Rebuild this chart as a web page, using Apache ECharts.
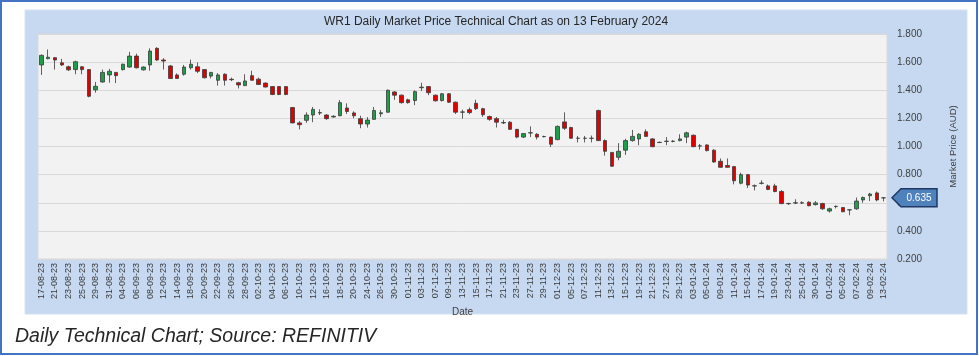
<!DOCTYPE html>
<html>
<head>
<meta charset="utf-8">
<script src="https://cdn.jsdelivr.net/npm/echarts@6/dist/echarts.min.js"></script>
<style>
html,body{margin:0;padding:0;background:#fff;}
#main{width:979px;height:356px;}
</style>
</head>
<body>
<div id="main"></div>
<script>
const dates = [
'17-08-23','18-08-23','21-08-23','22-08-23','23-08-23','24-08-23','25-08-23','28-08-23','29-08-23','30-08-23','31-08-23',
'01-09-23','04-09-23','05-09-23','06-09-23','07-09-23','08-09-23','11-09-23','12-09-23','13-09-23','14-09-23','15-09-23',
'18-09-23','19-09-23','20-09-23','21-09-23','22-09-23','25-09-23','26-09-23','27-09-23','28-09-23','29-09-23',
'02-10-23','03-10-23','04-10-23','05-10-23','06-10-23','09-10-23','10-10-23','11-10-23','12-10-23','13-10-23',
'16-10-23','17-10-23','18-10-23','19-10-23','20-10-23','23-10-23','24-10-23','25-10-23','26-10-23','27-10-23','30-10-23','31-10-23',
'01-11-23','02-11-23','03-11-23','06-11-23','07-11-23','08-11-23','09-11-23','10-11-23','13-11-23','14-11-23','15-11-23','16-11-23','17-11-23',
'20-11-23','21-11-23','22-11-23','23-11-23','24-11-23','27-11-23','28-11-23','29-11-23','30-11-23',
'01-12-23','04-12-23','05-12-23','06-12-23','07-12-23','08-12-23','11-12-23','12-12-23','13-12-23','14-12-23','15-12-23',
'18-12-23','19-12-23','20-12-23','21-12-23','22-12-23','27-12-23','28-12-23','29-12-23',
'02-01-24','03-01-24','04-01-24','05-01-24','08-01-24','09-01-24','10-01-24','11-01-24','12-01-24',
'15-01-24','16-01-24','17-01-24','18-01-24','19-01-24','22-01-24','23-01-24','24-01-24','25-01-24','29-01-24','30-01-24','31-01-24',
'01-02-24','02-02-24','05-02-24','06-02-24','07-02-24','08-02-24','09-02-24','12-02-24','13-02-24'
];
const openPrices = [
1.580,1.625,1.632,1.595,1.567,1.547,1.567,1.547,1.403,1.459,1.509,1.527,1.547,1.565,1.643,1.545,1.580,1.698,1.615,1.573,
1.509,1.514,1.560,1.567,1.547,1.501,1.471,1.514,1.478,1.454,1.433,1.504,1.479,1.451,1.426,1.426,1.426,1.277,1.168,1.186,
1.224,1.238,1.224,1.210,1.219,1.274,1.239,1.198,1.160,1.193,1.233,1.244,1.388,1.365,1.332,1.327,1.418,1.426,1.365,1.327,
1.375,1.315,1.244,1.262,1.307,1.269,1.213,1.198,1.168,1.173,1.122,1.067,1.096,1.087,1.070,1.067,1.049,1.175,1.135,1.058,
1.058,1.058,1.256,1.042,0.958,0.923,0.974,1.042,1.054,1.105,1.054,1.028,1.036,1.036,1.042,1.067,1.080,1.003,1.011,0.974,
0.895,0.865,0.857,0.739,0.800,0.719,0.738,0.720,0.720,0.680,0.593,0.598,0.598,0.604,0.587,0.594,0.541,0.573,0.566,0.549,
0.557,0.620,0.650,0.670,0.635
];
const closePrices = [
1.648,1.635,1.615,1.580,1.545,1.603,1.547,1.357,1.428,1.527,1.535,1.504,1.585,1.643,1.560,1.565,1.679,1.615,1.608,1.484,
1.484,1.565,1.585,1.535,1.489,1.527,1.509,1.471,1.475,1.438,1.466,1.471,1.441,1.423,1.370,1.370,1.370,1.168,1.155,1.224,
1.264,1.241,1.198,1.215,1.312,1.249,1.219,1.160,1.188,1.256,1.240,1.400,1.365,1.312,1.312,1.390,1.422,1.383,1.325,1.375,
1.315,1.244,1.246,1.241,1.269,1.226,1.193,1.173,1.170,1.122,1.067,1.092,1.098,1.067,1.071,1.016,1.143,1.130,1.059,1.059,
1.059,1.059,1.042,0.966,0.860,0.966,1.042,1.072,1.087,1.072,0.999,1.030,1.038,1.038,1.054,1.097,0.999,1.005,0.971,0.890,
0.852,0.852,0.756,0.800,0.726,0.721,0.740,0.695,0.680,0.594,0.595,0.600,0.600,0.579,0.599,0.557,0.557,0.575,0.536,0.550,
0.612,0.637,0.662,0.620,0.635
];
const lowPrices = [
1.509,1.620,1.547,1.573,1.537,1.514,1.514,1.350,1.383,1.454,1.454,1.451,1.540,1.560,1.555,1.540,1.539,1.610,1.547,1.480,
1.480,1.504,1.547,1.522,1.484,1.484,1.433,1.433,1.465,1.413,1.430,1.468,1.438,1.420,1.365,1.365,1.365,1.165,1.122,1.168,
1.173,1.224,1.190,1.205,1.215,1.231,1.201,1.130,1.135,1.190,1.210,1.240,1.332,1.305,1.305,1.294,1.395,1.365,1.320,1.320,
1.310,1.231,1.198,1.230,1.260,1.211,1.183,1.135,1.160,1.118,1.059,1.060,1.067,1.050,1.065,0.996,1.045,1.118,1.055,1.029,
1.029,1.029,1.040,0.935,0.855,0.902,0.940,1.035,1.009,1.070,0.995,1.025,1.010,1.030,1.037,1.024,0.995,0.978,0.965,0.885,
0.850,0.850,0.731,0.731,0.705,0.688,0.730,0.690,0.674,0.590,0.585,0.590,0.592,0.575,0.580,0.550,0.530,0.560,0.533,0.511,
0.550,0.599,0.612,0.610,0.610
];
const highPrices = [
1.655,1.690,1.635,1.623,1.575,1.610,1.570,1.550,1.459,1.547,1.552,1.530,1.590,1.673,1.660,1.570,1.698,1.706,1.628,1.580,
1.520,1.580,1.618,1.598,1.550,1.530,1.522,1.520,1.490,1.460,1.514,1.539,1.490,1.455,1.428,1.428,1.428,1.280,1.180,1.243,
1.281,1.264,1.230,1.222,1.330,1.307,1.250,1.219,1.209,1.281,1.260,1.405,1.393,1.370,1.340,1.400,1.453,1.428,1.370,1.380,
1.380,1.320,1.262,1.277,1.332,1.275,1.220,1.210,1.190,1.180,1.125,1.095,1.143,1.095,1.077,1.070,1.150,1.243,1.140,1.075,
1.075,1.078,1.262,1.050,0.960,1.024,1.055,1.118,1.095,1.122,1.060,1.034,1.067,1.045,1.087,1.105,1.085,1.017,1.015,0.980,
0.915,0.915,0.860,0.814,0.805,0.730,0.760,0.730,0.735,0.690,0.600,0.625,0.610,0.610,0.612,0.600,0.565,0.580,0.570,0.551,
0.637,0.645,0.670,0.680,0.640
];
const yTicks = [0.2, 0.4, 0.6, 0.8, 1.0, 1.2, 1.4, 1.6, 1.8];
const lastPrice = 0.635;
const titleText = 'WR1 Daily Market Price Technical Chart as on 13 February 2024';
const captionText = 'Daily Technical Chart; Source: REFINITIV';

const candleData = dates.map((d, i) => [openPrices[i], closePrices[i], lowPrices[i], highPrices[i]]);

const chart = echarts.init(document.getElementById('main'));
const FONT = '"Liberation Sans", Arial, sans-serif';

chart.setOption({
  animation: false,
  backgroundColor: '#ffffff',
  grid: {
    left: 38, top: 34, width: 849, height: 225,
    show: true, backgroundColor: '#f2f2f2', borderColor: '#d9d9d9', borderWidth: 1,
    containLabel: false
  },
  xAxis: {
    type: 'category',
    data: dates,
    boundaryGap: true,
    name: 'Date',
    nameLocation: 'middle',
    nameGap: 48,
    nameTextStyle: { fontFamily: FONT, fontSize: 10, color: '#404040' },
    axisLine: { show: false },
    axisTick: { show: false },
    axisLabel: { interval: 1, rotate: 90, fontFamily: FONT, fontSize: 9, color: '#3a3a3a', margin: 4 },
    splitLine: { show: false }
  },
  yAxis: {
    type: 'value',
    position: 'right',
    min: yTicks[0], max: yTicks[yTicks.length - 1], interval: 0.2,
    name: 'Market Price (AUD)',
    nameLocation: 'middle',
    nameRotate: 90,
    nameGap: 61,
    nameTextStyle: { fontFamily: FONT, fontSize: 9.5, color: '#404040' },
    axisLine: { show: false },
    axisTick: { show: false },
    axisLabel: { fontFamily: FONT, fontSize: 10, color: '#404040', margin: 10, formatter: v => v.toFixed(3) },
    splitLine: { lineStyle: { color: '#d9d9d9', width: 1 } }
  },
  series: [{
    type: 'candlestick',
    data: candleData,
    barWidth: 4,
    itemStyle: {
      color: '#1e9e4a', color0: '#e00000',
      borderColor: '#3a3a3a', borderColor0: '#3a3a3a', borderColorDoji: '#3a3a3a',
      borderWidth: 0.8
    }
  }]
});

const yLast = chart.convertToPixel({ yAxisIndex: 0 }, lastPrice);
const xTag = 892;
chart.setOption({
  graphic: [
    { type: 'rect', z: -20, silent: true, shape: { x: 1, y: 1, width: 976, height: 353 },
      style: { fill: '#ffffff', stroke: '#4472c4', lineWidth: 2 } },
    { type: 'rect', z: -10, silent: true, shape: { x: 25, y: 10, width: 942, height: 304 },
      style: { fill: '#c6d9f1', stroke: '#d6e2f2', lineWidth: 1 } },
    { type: 'text', z: 10, silent: true,
      style: { x: 496, y: 22, text: titleText, textAlign: 'center', textVerticalAlign: 'middle',
        fontFamily: FONT, fontSize: 12, fill: '#262626' } },
    { type: 'text', z: 10, silent: true,
      style: { x: 15, y: 337, text: captionText, textAlign: 'left', textVerticalAlign: 'middle',
        fontFamily: FONT, fontSize: 19.5, fontStyle: 'italic', fill: '#262626' } },
    { type: 'polygon', z: 20, silent: true,
      shape: { points: [[xTag, yLast], [xTag + 9, yLast - 9], [xTag + 45, yLast - 9], [xTag + 45, yLast + 9], [xTag + 9, yLast + 9]] },
      style: { fill: '#4f81bd', stroke: '#1f3864', lineWidth: 1.5 } },
    { type: 'text', z: 21, silent: true,
      style: { x: xTag + 27, y: yLast, text: lastPrice.toFixed(3), textAlign: 'center', textVerticalAlign: 'middle',
        fontFamily: FONT, fontSize: 10, fill: '#ffffff' } }
  ]
});
</script>
</body>
</html>
